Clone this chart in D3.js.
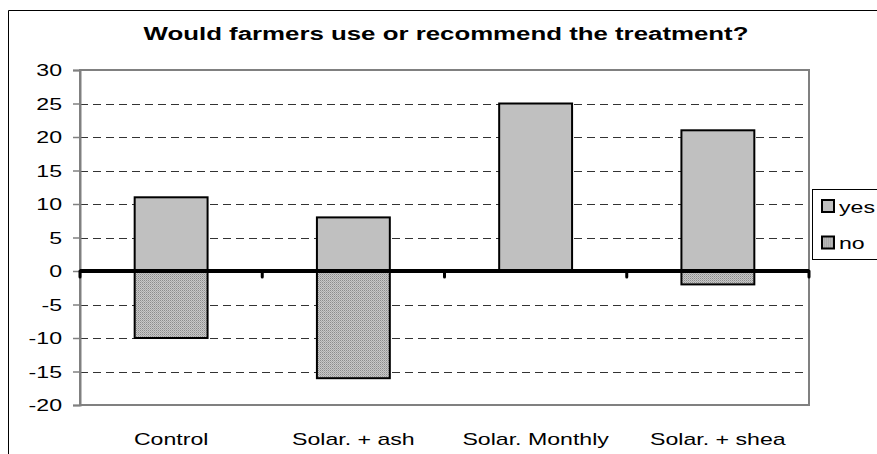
<!DOCTYPE html>
<html>
<head>
<meta charset="utf-8">
<script src="https://cdn.jsdelivr.net/npm/d3@7"></script>
<style>
  body { margin: 0; background: #fff; }
  text { font-family: "Liberation Sans", Arial, sans-serif; fill: #000; }
</style>
</head>
<body>
<svg id="chart" width="877" height="454"></svg>
<script>
// data
var categories = ["Control", "Solar. + ash", "Solar. Monthly", "Solar. + shea"];
var yesValues = [11, 8, 25, 21];
var noValues = [-10, -16, 0, -2];
var yTicks = [30, 25, 20, 15, 10, 5, 0, -5, -10, -15, -20];
var seriesNames = ["yes", "no"];
var titleText = "Would farmers use or recommend the treatment?";

var svg = d3.select("#chart"),
    plot = {left: 80, right: 809, top: 70, bottom: 405},
    stretch = 1.36; // the original picture has horizontally stretched text

function placeText(sel, px, py) {
    return sel.attr("transform", "translate(" + px + "," + py + ") scale(" + stretch + ",1)");
}

// hatched fill for "no"
var defs = svg.append("defs");
var pat = defs.append("pattern")
    .attr("id", "hatch")
    .attr("patternUnits", "userSpaceOnUse")
    .attr("width", 2).attr("height", 2);
pat.append("rect").attr("width", 2).attr("height", 2).attr("fill", "#c8c8c8");
pat.append("rect").attr("width", 1).attr("height", 1).attr("fill", "#8c8c8c");
pat.append("rect").attr("x", 1).attr("y", 1).attr("width", 1).attr("height", 1).attr("fill", "#a8a8a8");

// outer chart frame (cropped at right and bottom)
svg.append("path")
    .attr("d", "M8.5,460 L8.5,10.5 L880,10.5")
    .attr("fill", "none")
    .attr("stroke", "#000")
    .attr("stroke-width", 1);

svg.append("text")
    .call(placeText, 446, 39.5)
    .attr("text-anchor", "middle")
    .style("font-size", "19px")
    .style("font-weight", "bold")
    .text(titleText);

var x = d3.scaleBand().domain(categories).range([plot.left, plot.right]).paddingInner(0).paddingOuter(0);
var y = d3.scaleLinear().domain([-20, 30]).range([plot.bottom, plot.top]);
var barW = x.bandwidth() * 0.4;

// gridlines
svg.append("g")
    .selectAll("line")
    .data(yTicks.filter(function (d) { return d !== 30 && d !== -20 && d !== 0; }))
    .enter().append("line")
    .attr("x1", plot.left).attr("x2", plot.right)
    .attr("y1", function (d) { return Math.round(y(d)) + 0.5; })
    .attr("y2", function (d) { return Math.round(y(d)) + 0.5; })
    .attr("stroke", "#333")
    .attr("stroke-dasharray", "8,5");

// plot frame
svg.append("rect")
    .attr("x", plot.left).attr("y", plot.top)
    .attr("width", plot.right - plot.left).attr("height", plot.bottom - plot.top)
    .attr("fill", "none")
    .attr("stroke", "#808080")
    .attr("stroke-width", 2);

// y axis
var yAxis = svg.append("g")
    .attr("transform", "translate(" + plot.left + ",0)")
    .call(d3.axisLeft(y).tickValues(yTicks).tickSize(7).tickPadding(8).tickFormat(function (d) { return String(d); }));
yAxis.select(".domain").attr("stroke", "#808080").attr("stroke-width", 2);
yAxis.selectAll(".tick line").attr("stroke", "#808080").attr("stroke-width", 1.5);
yAxis.selectAll(".tick text")
    .attr("x", null).attr("dy", "0.35em")
    .call(placeText, -18, 0)
    .attr("fill", "#000")
    .style("font-size", "17px");

// bars
function drawBars(values, fill) {
    svg.append("g")
        .selectAll("rect")
        .data(values.map(function (v, i) { return {cat: categories[i], v: v}; }).filter(function (d) { return d.v !== 0; }))
        .enter().append("rect")
        .attr("x", function (d) { return x(d.cat) + (x.bandwidth() - barW) / 2; })
        .attr("y", function (d) { return y(Math.max(0, d.v)); })
        .attr("width", barW)
        .attr("height", function (d) { return Math.abs(y(d.v) - y(0)); })
        .attr("fill", fill)
        .attr("stroke", "#000")
        .attr("stroke-width", 2);
}
drawBars(yesValues, "#c0c0c0");
drawBars(noValues, "url(#hatch)");

// zero line with category ticks
var xAxis = svg.append("g")
    .attr("transform", "translate(0," + y(0) + ")");
xAxis.append("line")
    .attr("x1", plot.left).attr("x2", plot.right)
    .attr("stroke", "#000").attr("stroke-width", 4);
xAxis.selectAll(".cat-tick")
    .data(categories.concat(["end"]))
    .enter().append("line")
    .attr("class", "cat-tick")
    .attr("x1", function (d, i) { return plot.left + i * x.step(); })
    .attr("x2", function (d, i) { return plot.left + i * x.step(); })
    .attr("y1", 0).attr("y2", 6)
    .attr("stroke", "#000").attr("stroke-width", 3)
    .attr("stroke-linecap", "round");

// category labels
svg.append("g")
    .selectAll("text")
    .data(categories)
    .enter().append("text")
    .each(function (d) { placeText(d3.select(this), x(d) + x.bandwidth() / 2, 445); })
    .attr("text-anchor", "middle")
    .style("font-size", "17px")
    .text(function (d) { return d; });

// legend
var legend = svg.append("g").attr("transform", "translate(812,189)");
legend.append("rect")
    .attr("x", 0.5).attr("y", 0.5)
    .attr("width", 80).attr("height", 70)
    .attr("fill", "#fff").attr("stroke", "#000").attr("stroke-width", 1);
var items = legend.selectAll(".item")
    .data(seriesNames)
    .enter().append("g")
    .attr("class", "item")
    .attr("transform", function (d, i) { return "translate(0," + (17 + i * 36.5) + ")"; });
items.append("rect")
    .attr("x", 10).attr("y", -6)
    .attr("width", 12).attr("height", 12)
    .attr("fill", function (d, i) { return i === 0 ? "#c0c0c0" : "url(#hatch)"; })
    .attr("stroke", "#000").attr("stroke-width", 2);
items.append("text")
    .call(placeText, 27, 6.5)
    .style("font-size", "17px")
    .text(function (d) { return d; });
</script>
</body>
</html>
